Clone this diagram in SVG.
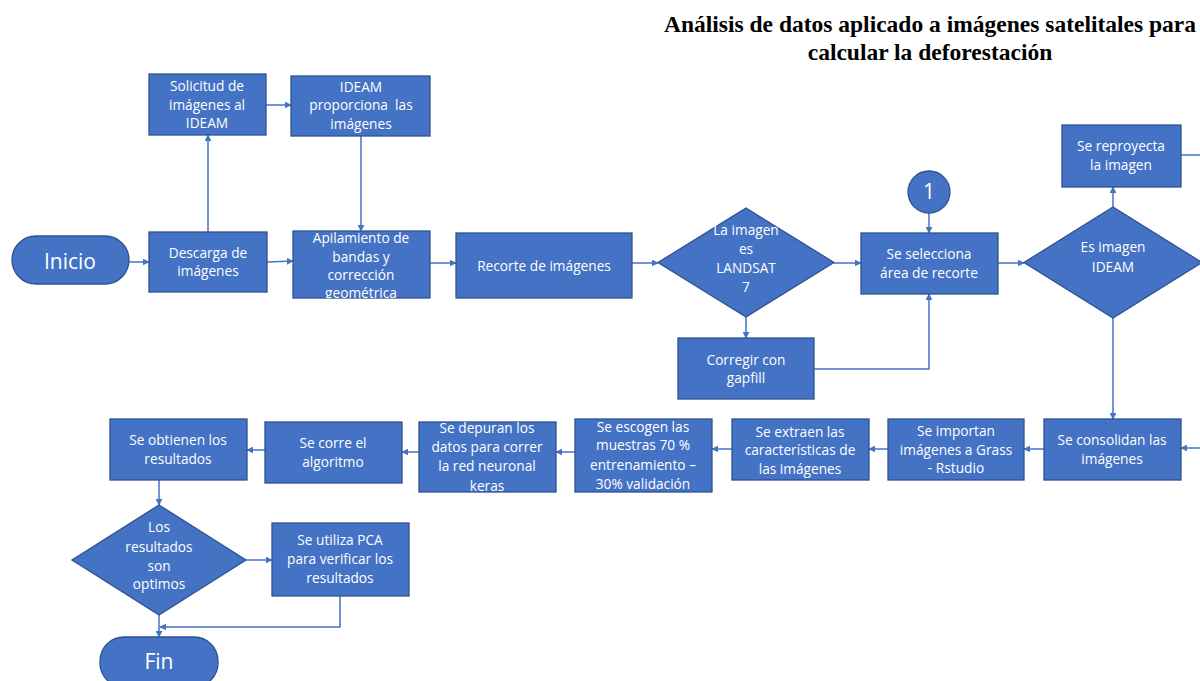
<svg xmlns="http://www.w3.org/2000/svg" width="1200" height="681" viewBox="0 0 1200 681">
<style>
.n{fill:#4472C4;stroke:#2F528F;stroke-width:1.3}
.t{font-family:"Open Sans","Liberation Sans",sans-serif;font-size:13.7px;fill:#ffffff;text-anchor:middle}
.big{font-size:21px}
.title{font-family:"Liberation Serif",serif;font-weight:bold;font-size:23.5px;fill:#000;text-anchor:middle}
.c{fill:none;stroke:#4472C4;stroke-width:1.5}
</style>
<defs>
<marker id="a" viewBox="0 0 10 10" refX="9" refY="5" markerWidth="7" markerHeight="7" markerUnits="userSpaceOnUse" orient="auto"><path d="M0,0L10,5L0,10z" fill="#4472C4"/></marker>
<clipPath id="clipApil"><rect x="293" y="231" width="137" height="67"/></clipPath>
</defs>
<rect width="1200" height="681" fill="#ffffff"/>
<g id="title">
<text class="title" x="930" y="32">Análisis de datos aplicado a imágenes satelitales para</text>
<text class="title" x="930" y="60">calcular la deforestación</text>
</g>
<g id="connectors">
<path class="c" marker-end="url(#a)" d="M129,262H149"/>
<path class="c" marker-end="url(#a)" d="M208,232V135"/>
<path class="c" marker-end="url(#a)" d="M266,105H291"/>
<path class="c" marker-end="url(#a)" d="M361,136V231"/>
<path class="c" marker-end="url(#a)" d="M267,262L293,261"/>
<path class="c" marker-end="url(#a)" d="M430,263H456"/>
<path class="c" marker-end="url(#a)" d="M632,263H658"/>
<path class="c" marker-end="url(#a)" d="M834,263H861"/>
<path class="c" marker-end="url(#a)" d="M746,317V338"/>
<path class="c" marker-end="url(#a)" d="M814,369H929V294"/>
<path class="c" marker-end="url(#a)" d="M929,213V233"/>
<path class="c" marker-end="url(#a)" d="M998,263H1024"/>
<path class="c" marker-end="url(#a)" d="M1113,207V187"/>
<path class="c" d="M1181,155H1200"/>
<path class="c" marker-end="url(#a)" d="M1200,448H1181"/>
<path class="c" marker-end="url(#a)" d="M1113,318V419"/>
<path class="c" marker-end="url(#a)" d="M1044,449H1024"/>
<path class="c" marker-end="url(#a)" d="M888,449H869"/>
<path class="c" marker-end="url(#a)" d="M732,449H712"/>
<path class="c" marker-end="url(#a)" d="M575,452H556"/>
<path class="c" marker-end="url(#a)" d="M419,452H402"/>
<path class="c" marker-end="url(#a)" d="M265,450H247"/>
<path class="c" marker-end="url(#a)" d="M159,480V505"/>
<path class="c" marker-end="url(#a)" d="M246,560H272"/>
<path class="c" marker-end="url(#a)" d="M159,615V637"/>
<path class="c" marker-end="url(#a)" d="M340,596V627H160"/>
</g>
<g id="inicio"><rect class="n" x="12" y="236" width="117" height="48" rx="24"/><text class="t big" x="70" y="269">Inicio</text></g>
<g id="solicitud"><rect class="n" x="149" y="74" width="117" height="61"/><text class="t" x="207" y="91">Solicitud de</text><text class="t" x="207" y="110">imágenes al</text><text class="t" x="207" y="128">IDEAM</text></g>
<g id="proporciona"><rect class="n" x="291" y="76" width="139" height="60"/><text class="t" x="361" y="92">IDEAM</text><text class="t" x="361" y="110" xml:space="preserve">proporciona  las</text><text class="t" x="361" y="129">imágenes</text></g>
<g id="descarga"><rect class="n" x="149" y="232" width="118" height="60"/><text class="t" x="208" y="258">Descarga de</text><text class="t" x="208" y="276">imágenes</text></g>
<g id="apilamiento"><rect class="n" x="293" y="231" width="137" height="67"/><g clip-path="url(#clipApil)"><text class="t" x="361" y="243">Apilamiento de</text><text class="t" x="361" y="262">bandas y</text><text class="t" x="361" y="280">corrección</text><text class="t" x="361" y="298">geométrica</text></g></g>
<g id="recorte"><rect class="n" x="456" y="233" width="176" height="65"/><text class="t" x="544" y="271">Recorte de imágenes</text></g>
<g id="landsat"><path class="n" d="M746,208L834,262.5L746,317L658,262.5Z"/><text class="t" x="746" y="235">La imagen</text><text class="t" x="746" y="254">es</text><text class="t" x="746" y="273">LANDSAT</text><text class="t" x="746" y="292">7</text></g>
<g id="corregir"><rect class="n" x="678" y="338" width="136" height="61"/><text class="t" x="746" y="365">Corregir con</text><text class="t" x="746" y="383">gapfill</text></g>
<g id="conector1"><circle class="n" cx="929" cy="192" r="21"/><text class="t big" x="929" y="199">1</text></g>
<g id="selecciona"><rect class="n" x="861" y="233" width="137" height="61"/><text class="t" x="929" y="259">Se selecciona</text><text class="t" x="929" y="278">área de recorte</text></g>
<g id="ideam"><path class="n" d="M1113,207L1202,262.5L1113,318L1024,262.5Z"/><text class="t" x="1113" y="252">Es imagen</text><text class="t" x="1113" y="272">IDEAM</text></g>
<g id="reproyecta"><rect class="n" x="1062" y="125" width="119" height="62"/><text class="t" x="1121" y="151">Se reproyecta</text><text class="t" x="1121" y="170">la imagen</text></g>
<g id="consolidan"><rect class="n" x="1044" y="419" width="137" height="61"/><text class="t" x="1112" y="445">Se consolidan las</text><text class="t" x="1112" y="464">imágenes</text></g>
<g id="importan"><rect class="n" x="888" y="419" width="136" height="61"/><text class="t" x="956" y="436">Se importan</text><text class="t" x="956" y="455">imágenes a Grass</text><text class="t" x="956" y="473">- Rstudio</text></g>
<g id="extraen"><rect class="n" x="732" y="419" width="137" height="61"/><text class="t" x="800" y="437">Se extraen las</text><text class="t" x="800" y="455">características de</text><text class="t" x="800" y="474">las imágenes</text></g>
<g id="escogen"><rect class="n" x="575" y="419" width="137" height="73"/><text class="t" x="643" y="432">Se escogen las</text><text class="t" x="643" y="450">muestras 70 %</text><text class="t" x="643" y="470">entrenamiento –</text><text class="t" x="643" y="489">30% validación</text></g>
<g id="depuran"><rect class="n" x="419" y="422" width="137" height="70"/><text class="t" x="487" y="433">Se depuran los</text><text class="t" x="487" y="452">datos para correr</text><text class="t" x="487" y="471">la red neuronal</text><text class="t" x="487" y="491">keras</text></g>
<g id="corre"><rect class="n" x="265" y="422" width="137" height="61"/><text class="t" x="333" y="448">Se corre el</text><text class="t" x="333" y="467">algoritmo</text></g>
<g id="obtienen"><rect class="n" x="110" y="419" width="137" height="61"/><text class="t" x="178" y="445">Se obtienen los</text><text class="t" x="178" y="464">resultados</text></g>
<g id="optimos"><path class="n" d="M159,505L246,560L159,615L72,560Z"/><text class="t" x="159" y="532">Los</text><text class="t" x="159" y="552">resultados</text><text class="t" x="159" y="571">son</text><text class="t" x="159" y="589">optimos</text></g>
<g id="pca"><rect class="n" x="272" y="523" width="137" height="73"/><text class="t" x="340" y="545">Se utiliza PCA</text><text class="t" x="340" y="564">para verificar los</text><text class="t" x="340" y="583">resultados</text></g>
<g id="fin"><rect class="n" x="100" y="637" width="118" height="50" rx="24"/><text class="t big" x="159" y="669">Fin</text></g>
</svg>
